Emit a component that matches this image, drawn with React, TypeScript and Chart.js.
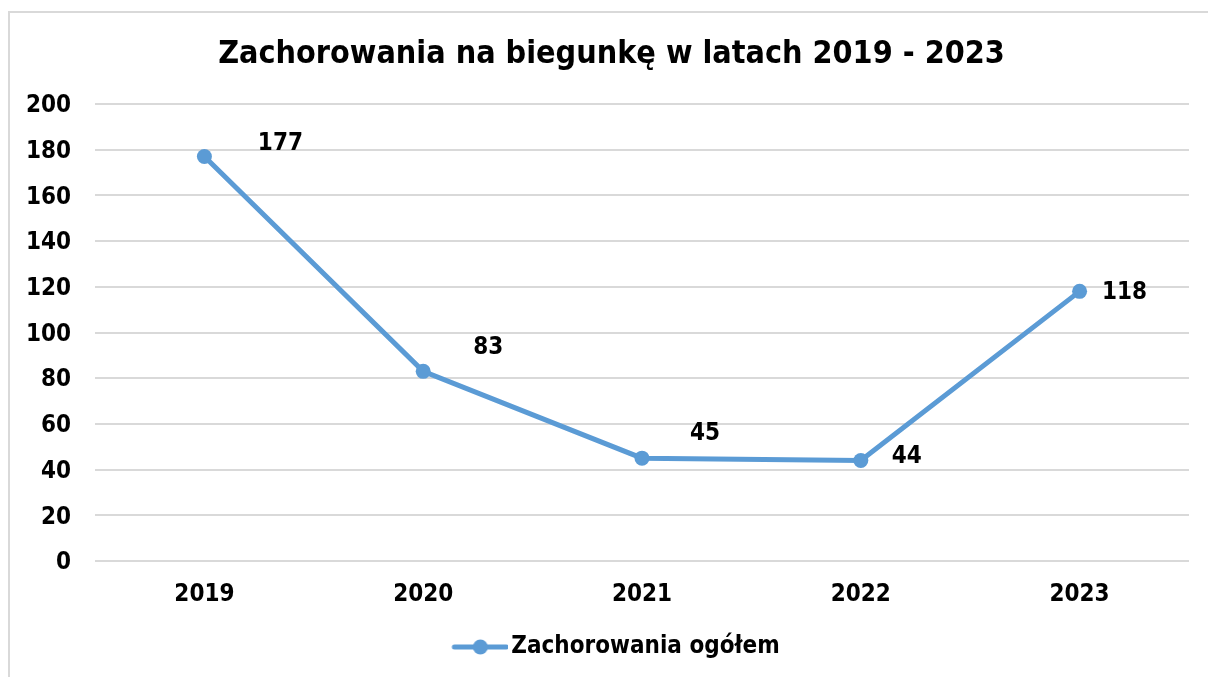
import React, { useEffect, useRef } from "react";
import { Chart, registerables } from "chart.js";

Chart.register(...registerables);

const titleText = "Zachorowania na biegunkę w latach 2019 - 2023";
const seriesName = "Zachorowania ogółem";
const categories = ["2019", "2020", "2021", "2022", "2023"];
const values = [177, 83, 45, 44, 118];
const yTicks = [0, 20, 40, 60, 80, 100, 120, 140, 160, 180, 200];

// label placement offsets (style, in px) relative to each point
const labelOffsets: [number, number][] = [
  [76, -13],
  [65, -24],
  [63, -24],
  [46, -4],
  [45, 1],
];

const FONT = "'DejaVu Sans Condensed', 'DejaVu Sans', sans-serif";
const BLUE = "#5B9BD5";

function makeLegendImage(): HTMLCanvasElement {
  const c = document.createElement("canvas");
  c.width = 74;
  c.height = 18;
  const ctx = c.getContext("2d")!;
  ctx.strokeStyle = BLUE;
  ctx.lineWidth = 5;
  ctx.lineCap = "round";
  ctx.beginPath();
  ctx.moveTo(20, 9);
  ctx.lineTo(72, 9);
  ctx.stroke();
  ctx.fillStyle = BLUE;
  ctx.beginPath();
  ctx.arc(46, 9, 7.5, 0, Math.PI * 2);
  ctx.fill();
  return c;
}

const dataLabelPlugin = {
  id: "dataLabels",
  afterDatasetsDraw(chart: any) {
    const ctx = chart.ctx;
    const meta = chart.getDatasetMeta(0);
    ctx.save();
    ctx.font = `bold 24px ${FONT}`;
    ctx.fillStyle = "#000";
    ctx.textAlign = "center";
    ctx.textBaseline = "middle";
    meta.data.forEach((pt: any, i: number) => {
      const [dx, dy] = labelOffsets[i];
      ctx.fillText(String(values[i]), pt.x + dx, pt.y + dy);
    });
    ctx.restore();
  },
};

export default function App() {
  const ref = useRef<HTMLCanvasElement>(null);
  useEffect(() => {
    document.documentElement.style.overflow = "hidden";
    document.body.style.overflow = "hidden";
    const legendImg = makeLegendImage();
    const chart = new Chart(ref.current!, {
      type: "line",
      data: {
        labels: categories,
        datasets: [
          {
            label: seriesName,
            data: values,
            borderColor: BLUE,
            backgroundColor: BLUE,
            borderWidth: 5,
            pointRadius: 7.5,
            pointBorderWidth: 0,
            pointBackgroundColor: BLUE,
            tension: 0,
          },
        ],
      },
      options: {
        responsive: false,
        animation: false,
        layout: { padding: { left: 5, right: 0, top: 0, bottom: 8 } },
        plugins: {
          title: {
            display: true,
            text: titleText,
            color: "#000",
            font: { family: FONT, size: 32, weight: "bold" },
            padding: { top: 22, bottom: 30.6 },
          },
          legend: {
            display: true,
            position: "bottom",
            labels: {
              usePointStyle: true,
              pointStyleWidth: 56,
              padding: 10,
              color: "#000",
              font: { family: FONT, size: 24, weight: "bold" },
              generateLabels: () => [
                {
                  text: seriesName,
                  pointStyle: legendImg as any,
                  fillStyle: BLUE,
                  strokeStyle: BLUE,
                  lineWidth: 0,
                  hidden: false,
                  datasetIndex: 0,
                } as any,
              ],
            },
          },
          tooltip: { enabled: false },
        },
        scales: {
          x: {
            offset: true,
            grid: { display: false },
            border: { display: false },
            ticks: {
              color: "#000",
              padding: 11,
              font: { family: FONT, size: 24, weight: "bold" },
            },
            afterFit: (s: any) => {
              s.height = 64;
            },
          },
          y: {
            min: 0,
            max: 200,
            grid: { color: "#d9d9d9", lineWidth: 2, drawTicks: false },
            border: { display: false },
            ticks: {
              stepSize: 20,
              padding: 24,
              labelOffset: 2,
              color: "#000",
              font: { family: FONT, size: 24, weight: "bold" },
              callback: (v: any) => (yTicks.includes(Number(v)) ? String(v) : ""),
            },
            afterFit: (s: any) => {
              s.width = 80;
            },
          },
          yRight: {
            type: "linear",
            position: "right",
            display: true,
            grid: { display: false, drawTicks: false },
            border: { display: false },
            ticks: { display: false },
            afterFit: (s: any) => {
              s.width = 19;
            },
          },
        },
      },
      plugins: [dataLabelPlugin],
    });
    return () => chart.destroy();
  }, []);
  return (
    <div
      style={{
        position: "fixed",
        left: 8,
        top: 11,
        width: 1198,
        height: 664,
        borderLeft: "2px solid #d9d9d9",
        borderTop: "2px solid #d9d9d9",
        background: "#fff",
      }}
    >
      <canvas ref={ref} width={1198} height={664} style={{ display: "block" }} />
    </div>
  );
}
